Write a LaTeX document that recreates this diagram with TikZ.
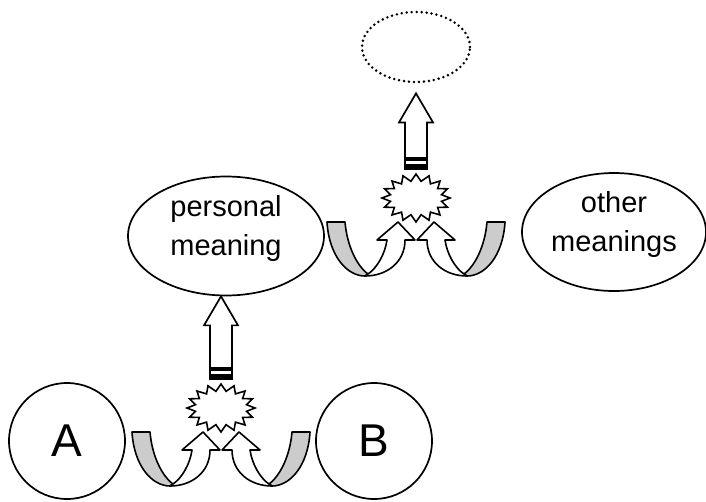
\documentclass[tikz,border=0pt]{standalone}
\usepackage{fontspec}
\setmainfont{Liberation Sans}
\usepackage{tikz}
\usetikzlibrary{shapes,arrows,positioning,calc}

\tikzset{
  bubble/.style={ellipse, draw, line width=1.7pt, inner sep=0pt},
  roundnode/.style={circle, draw, line width=1.7pt, inner sep=0pt, minimum size=116pt, font=\fontsize{46}{50}\selectfont},
  words/.style={align=center, font=\fontsize{29}{39}\selectfont},
  burstline/.style={draw, line width=1.6pt, fill=white, line join=miter},
  curl/.style={draw, line width=1.6pt, line join=round},
  fatline/.style={draw, line width=1.7pt, fill=white, line join=miter}
}

% burst: named centre plus a star of 16 points
\newcommand{\burstat}[3]{%
  \coordinate (#1) at (#2,#3);
  \begin{scope}[shift={(#1)}]
    \draw[burstline] plot[samples at={0,...,31}, variable=\k]
      ({cos(90+\k*11.25)*ifthenelse(mod(\k,2)==0,34,26)}, {-sin(90+\k*11.25)*ifthenelse(mod(\k,2)==0,24,17)}) -- cycle;
  \end{scope}
}

% curled arrow pair below a burst
\newcommand{\curlpair}[1]{%
  \foreach \side/\off in {1/-51, -1/51} {
    \begin{scope}[shift={($(#1)+(\off,78)$)}, xscale=\side]
      \filldraw[curl, fill=gray!40] (-38,-54) .. controls (-36,-20) and (-18,0) .. (0,0)
        -- (3,-2) .. controls (-8,-10) and (-18,-30) .. (-20,-54) -- cycle;
      \filldraw[curl, fill=white] (0,0) .. controls (22,0) and (40,-14) .. (40,-36)
        -- (50,-36) -- (33,-54) -- (12,-36) -- (22,-36)
        .. controls (20,-22) and (12,-8) .. (3,-2) -- cycle;
    \end{scope}
  }
}

% fat arrow from a burst up to a target
\newcommand{\fatarrow}[2]{%
  \draw[fatline] ($(#1)+(-11,-29)$) -- ($(#2)+(-11,29)$) -- ($(#2)+(-17,29)$) -- (#2)
    -- ($(#2)+(17,29)$) -- ($(#2)+(11,29)$) -- ($(#1)+(11,-29)$) -- cycle;
  \fill ($(#1)+(-11.9,-28)$) rectangle ($(#1)+(11.9,-41)$);
  \draw[white, line width=2.4pt] ($(#1)+(-10,-35.5)$) -- ($(#1)+(10,-35.5)$);
}

\begin{document}
\begin{tikzpicture}[x=1pt, y=-1pt, node distance=307pt]
  \useasboundingbox (0,0) rectangle (706,501);

  \node (a) [roundnode] at (67,441) {A};
  \node (b) [roundnode, right of=a] {B};
  \node (pm) [bubble, minimum width=196pt, minimum height=119pt,
    label={[words, yshift=8pt]center:{personal\\meaning}}] at (226,236) {};
  \node (om) [bubble, minimum width=184pt, minimum height=118pt,
    label={[words, yshift=8pt]center:{other\\meanings}}] at (614,232) {};
  \node (goal) [bubble, line width=2.8pt, dash pattern=on 0pt off 5pt, line cap=round,
    minimum width=108pt, minimum height=70pt] at (416,47) {};

  \burstat{burst1}{221}{408}
  \burstat{burst2}{416}{198}

  \curlpair{burst1}
  \curlpair{burst2}

  \coordinate (tip1) at (burst1 |- pm.south);
  \coordinate (tip2) at ($(burst2 |- goal.south)+(0,10)$);
  \fatarrow{burst1}{tip1}
  \fatarrow{burst2}{tip2}
\end{tikzpicture}
\end{document}
